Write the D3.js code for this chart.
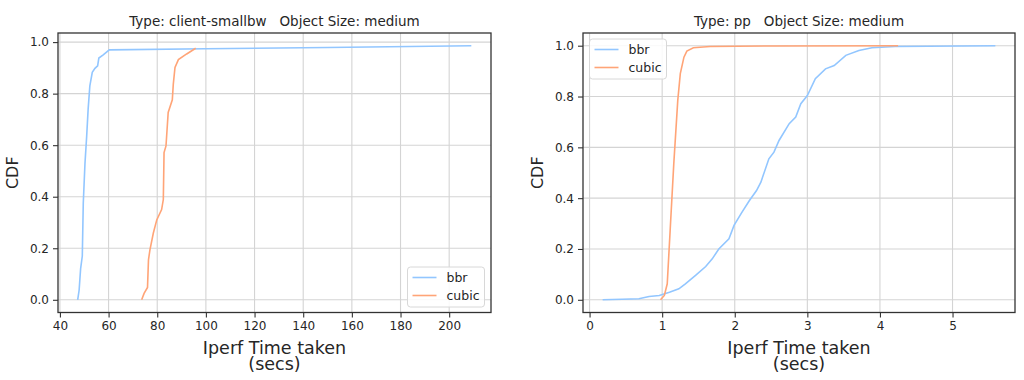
<!DOCTYPE html>
<html>
<head>
<meta charset="utf-8">
<script src="https://cdn.jsdelivr.net/npm/d3@7"></script>
<style>
  body { margin: 0; background: #fff; }
  svg text { font-family: "DejaVu Sans", sans-serif; fill: #262626; }
</style>
</head>
<body>
<div id="chart-area"></div>
<script>
// left panel: client-smallbw (x = secs, y = cdf)
const leftBbrX = [47.3, 47.9, 48.5, 49.2, 49.6, 50.3, 51.0, 51.6, 52.3, 53.3, 54.4, 55.5, 56.0, 57.8, 60.3, 100, 150, 209.1];
const leftBbrY = [0, 0.038, 0.12, 0.17, 0.376, 0.53, 0.635, 0.74, 0.83, 0.883, 0.898, 0.908, 0.938, 0.95, 0.970, 0.974, 0.979, 0.986];
const leftCubicX = [73.6, 74.6, 76.0, 76.4, 77.0, 78.4, 79.8, 81.8, 82.5, 82.8, 83.6, 84.5, 86.2, 86.6, 87.3, 88.7, 92.1, 95.8];
const leftCubicY = [0, 0.025, 0.048, 0.155, 0.194, 0.259, 0.31, 0.35, 0.389, 0.571, 0.597, 0.727, 0.776, 0.837, 0.902, 0.932, 0.954, 0.976];
const leftXTicks = [40, 60, 80, 100, 120, 140, 160, 180, 200];

// right panel: pp
const rightBbrX = [0.18, 0.45, 0.68, 0.82, 0.96, 1.10, 1.23, 1.32, 1.46, 1.60, 1.69, 1.78, 1.92, 1.99, 2.10, 2.20, 2.30, 2.36, 2.47, 2.54, 2.61, 2.75, 2.84, 2.91, 3.00, 3.11, 3.25, 3.37, 3.53, 3.71, 3.89, 4.21, 5.59];
const rightBbrY = [0, 0.002, 0.004, 0.013, 0.017, 0.03, 0.043, 0.063, 0.096, 0.131, 0.161, 0.2, 0.24, 0.293, 0.345, 0.39, 0.43, 0.463, 0.555, 0.581, 0.627, 0.693, 0.719, 0.772, 0.804, 0.87, 0.909, 0.922, 0.962, 0.981, 0.992, 0.997, 1.0];
const rightCubicX = [0.977, 1.03, 1.07, 1.11, 1.16, 1.215, 1.25, 1.30, 1.34, 1.43, 1.66, 2.5, 4.25];
const rightCubicY = [0, 0.017, 0.063, 0.273, 0.535, 0.785, 0.89, 0.955, 0.979, 0.992, 0.997, 0.999, 1.0];
const rightXTicks = [0, 1, 2, 3, 4, 5];

const yTicks = [0, 0.2, 0.4, 0.6, 0.8, 1.0];
const seriesNames = ["bbr", "cubic"];
const colors = ["#92c6ff", "#ffa477"];

const width = 1024, height = 380;

const svg = d3.select("#chart-area")
    .append("svg")
    .attr("width", width)
    .attr("height", height);

function zip(xs, ys) {
    return xs.map((x, i) => [x, ys[i]]);
}

function drawPanel(opts) {
    const left = opts.left, right = opts.right, top = 33, bottom = 312.5;
    const innerWidth = right - left, innerHeight = bottom - top;

    const allX = opts.series.flatMap(s => s.map(d => d[0]));
    const xMin = d3.min(allX), xMax = d3.max(allX);
    const xPad = (xMax - xMin) * 0.05;
    const xScale = d3.scaleLinear()
        .domain([xMin - xPad, xMax + xPad])
        .range([0, innerWidth]);

    const yMax = d3.max(opts.series.flatMap(s => s.map(d => d[1])));
    const yPad = yMax * 0.05;
    const yScale = d3.scaleLinear()
        .domain([-yPad, yMax + yPad])
        .range([innerHeight, 0]);

    const g = svg.append("g")
        .attr("transform", `translate(${left},${top})`);

    // grid
    g.append("g").selectAll("line")
        .data(opts.xTicks)
        .join("line")
        .attr("x1", d => xScale(d)).attr("x2", d => xScale(d))
        .attr("y1", 0).attr("y2", innerHeight)
        .attr("stroke", "#d4d4d4").attr("stroke-width", 1.1);
    g.append("g").selectAll("line")
        .data(yTicks)
        .join("line")
        .attr("y1", d => yScale(d)).attr("y2", d => yScale(d))
        .attr("x1", 0).attr("x2", innerWidth)
        .attr("stroke", "#d4d4d4").attr("stroke-width", 1.1);

    // lines
    const line = d3.line()
        .x(d => xScale(d[0]))
        .y(d => yScale(d[1]));
    opts.series.forEach((s, i) => {
        g.append("path")
            .datum(s)
            .attr("d", line)
            .attr("fill", "none")
            .attr("stroke", colors[i])
            .attr("stroke-width", 1.6);
    });

    // frame
    g.append("rect")
        .attr("width", innerWidth).attr("height", innerHeight)
        .attr("fill", "none").attr("stroke", "#333").attr("stroke-width", 1.3);

    // axes
    const xAxis = d3.axisBottom(xScale)
        .tickValues(opts.xTicks)
        .tickSize(5).tickPadding(4)
        .tickFormat(d3.format("d"));
    const xAxisGroup = g.append("g")
        .attr("transform", `translate(0,${innerHeight})`)
        .call(xAxis);

    const yAxis = d3.axisLeft(yScale)
        .tickValues(yTicks)
        .tickSize(5).tickPadding(4)
        .tickFormat(d3.format(".1f"));
    const yAxisGroup = g.append("g").call(yAxis);

    [xAxisGroup, yAxisGroup].forEach(ax => {
        ax.select(".domain").remove();
        ax.selectAll(".tick line").attr("stroke", "#333").attr("stroke-width", 1.1);
        ax.selectAll(".tick text")
            .attr("fill", "#333")
            .style("font-size", "12px")
            .style("font-family", "DejaVu Sans, sans-serif");
    });

    // title (keep the wide gaps)
    g.append("text")
        .attr("x", innerWidth / 2).attr("y", -7)
        .attr("text-anchor", "middle")
        .style("font-size", "13.5px")
        .style("white-space", "pre")
        .text(opts.title);

    // x label
    g.append("text")
        .attr("x", innerWidth / 2).attr("y", innerHeight + 41)
        .attr("text-anchor", "middle")
        .style("font-size", "17.5px")
        .text("Iperf Time taken");
    g.append("text")
        .attr("x", innerWidth / 2).attr("y", innerHeight + 57)
        .attr("text-anchor", "middle")
        .style("font-size", "17.5px")
        .text("(secs)");

    // y label
    g.append("text")
        .attr("transform", `translate(${opts.yLabelX},${innerHeight / 2}) rotate(-90)`)
        .attr("text-anchor", "middle")
        .style("font-size", "16px")
        .text("CDF");

    // legend
    const lg = g.append("g")
        .attr("transform", `translate(${opts.legend[0]},${opts.legend[1]})`);
    lg.append("rect")
        .attr("width", 77).attr("height", 40).attr("rx", 3)
        .attr("fill", "#fff").attr("fill-opacity", 0.85)
        .attr("stroke", "#d8d8d8");
    seriesNames.forEach((name, i) => {
        const yy = 10.5 + i * 18;
        lg.append("line")
            .attr("x1", 5).attr("x2", 29)
            .attr("y1", yy).attr("y2", yy)
            .attr("stroke", colors[i]).attr("stroke-width", 1.6);
        lg.append("text")
            .attr("x", 39).attr("y", yy + 4.5)
            .style("font-size", "12.5px")
            .text(name);
    });
}

drawPanel({
    left: 58, right: 491,
    title: "Type: client-smallbw   Object Size: medium",
    series: [zip(leftBbrX, leftBbrY), zip(leftCubicX, leftCubicY)],
    xTicks: leftXTicks,
    yLabelX: -40,
    legend: [407.5 - 58, 267 - 33]
});

drawPanel({
    left: 583, right: 1015,
    title: "Type: pp   Object Size: medium",
    series: [zip(rightBbrX, rightBbrY), zip(rightCubicX, rightCubicY)],
    xTicks: rightXTicks,
    yLabelX: -40,
    legend: [589.5 - 583, 39 - 33]
});
</script>
</body>
</html>
